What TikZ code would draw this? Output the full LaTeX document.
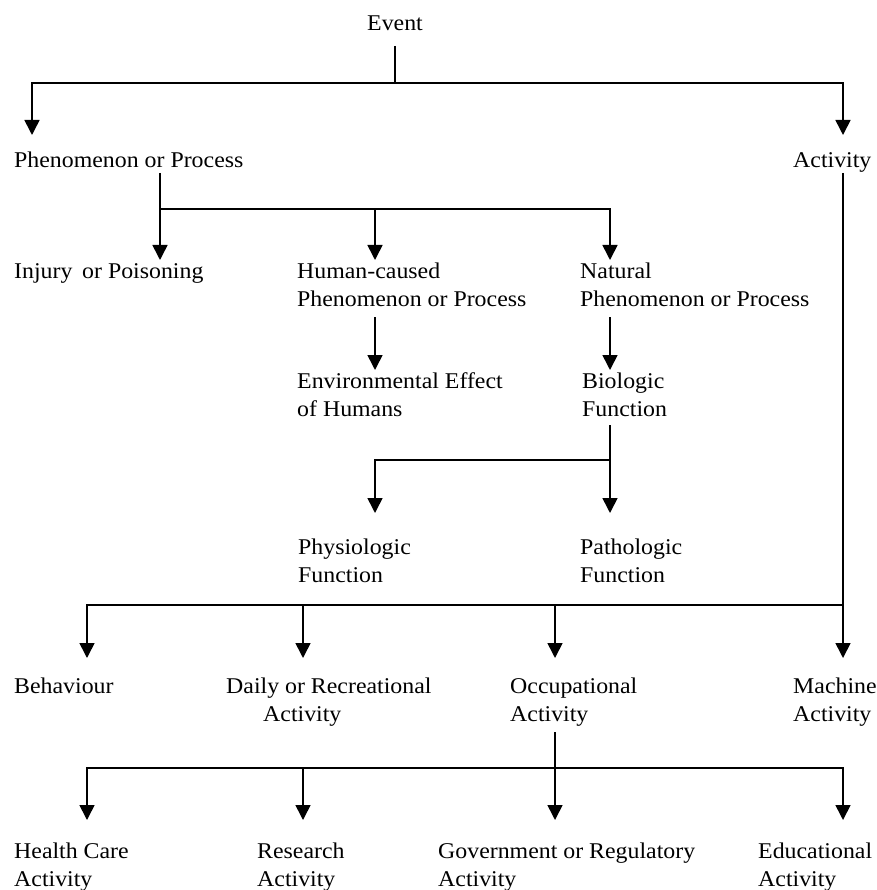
\documentclass[tikz,border=0pt]{standalone}
\usepackage{fontspec}
\setmainfont[FakeStretch = 1.06]{Liberation Serif}
\usetikzlibrary{
    arrows.meta,
    calc
}
\tikzset {
    term/.style = {
        anchor = base west,
        inner sep = 0pt,
        align = left,
        font = \fontsize{22.5}{28}\selectfont
    },
    tree line/.style = {line width = 1.6pt},
    tree arrow/.style = {
        line width = 1.6pt,
        -{Triangle[length = 15pt, width = 15pt]}
    }
}

\begin{document}
\begin{tikzpicture}[x = 1pt, y = -1pt]
    \useasboundingbox (0, 0) rectangle (876, 890);
    % terms (placed at the baseline of their last line)
    \node (ev) [term, anchor = base] at (395, 31) {Event};
    \node (pp) [term] at (14, 168) {Phenomenon or Process};
    \node (act) [term] at (793, 168) {Activity};
    \node (inj) [term] at (14, 278) {Injury\, or Poisoning};
    \node (hum) [term] at (297, 306) {Human-caused\\Phenomenon or Process};
    \node (nat) [term] at (580, 306) {Natural\\Phenomenon or Process};
    \node (env) [term] at (297, 416) {Environmental Effect\\of Humans};
    \node (bio) [term] at (582, 416) {Biologic\\Function};
    \node (phy) [term] at (298, 582) {Physiologic\\Function};
    \node (pat) [term] at (580, 582) {Pathologic\\Function};
    \node (beh) [term] at (14, 693) {Behaviour};
    \node (dra) [term] at (226, 721) {Daily or Recreational\\\hspace*{37pt}Activity};
    \node (occ) [term] at (510, 721) {Occupational\\Activity};
    \node (mac) [term] at (793, 721) {Machine\\Activity};
    \node (hca) [term] at (14, 886) {Health Care\\Activity};
    \node (res) [term] at (257, 886) {Research\\Activity};
    \node (gov) [term] at (438, 886) {Government or Regulatory\\Activity};
    \node (edu) [term] at (758, 886) {Educational\\Activity};
    % event
    \coordinate (ev-j) at (395, 83);
    \draw [tree line] ($ (ev.base) + (0, 15) $) -- (ev-j);
    \draw [tree arrow] (ev-j) -| ($ (pp.base west) + (18, -33) $);
    \draw [tree arrow] (ev-j) -| ($ (act.base west) + (50, -33) $);
    % phenomenon or process
    \coordinate (pp-j) at (160, 209);
    \draw [tree line] ($ (pp.base west) + (146, 5) $) -- (pp-j);
    \draw [tree arrow] (pp-j) -- ($ (inj.base west) + (146, -18) $);
    \draw [tree arrow] (pp-j) -| ($ (hum.base west) + (78, -46) $);
    \draw [tree arrow] (pp-j) -| ($ (nat.base west) + (30, -46) $);
    \draw [tree arrow] ($ (hum.base west) + (78, 11) $) -- ($ (env.base west) + (78, -46) $);
    \draw [tree arrow] ($ (nat.base west) + (30, 11) $) -- ($ (bio.base west) + (28, -46) $);
    \coordinate (bio-j) at (610, 460);
    \draw [tree line] ($ (bio.base west) + (28, 9) $) -- (bio-j);
    \draw [tree arrow] (bio-j) -| ($ (phy.base west) + (77, -69) $);
    \draw [tree arrow] (bio-j) -- ($ (pat.base west) + (30, -69) $);
    % activity
    \coordinate (act-j) at (843, 605);
    \draw [tree arrow] ($ (act.base west) + (50, 5) $) -- ($ (mac.base west) + (50, -63) $);
    \foreach \t/\dx/\dy in {beh/73/35, dra/77/63, occ/45/63}
        \draw [tree arrow] (act-j) -| ($ (\t.base west) + (\dx, -\dy) $);
    \coordinate (occ-j) at (555, 768);
    \draw [tree line] ($ (occ.base west) + (45, 11) $) -- (occ-j);
    \foreach \t/\dx in {hca/73, res/46, gov/117, edu/85}
        \draw [tree arrow] (occ-j) -| ($ (\t.base west) + (\dx, -66) $);
\end{tikzpicture}
\end{document}
